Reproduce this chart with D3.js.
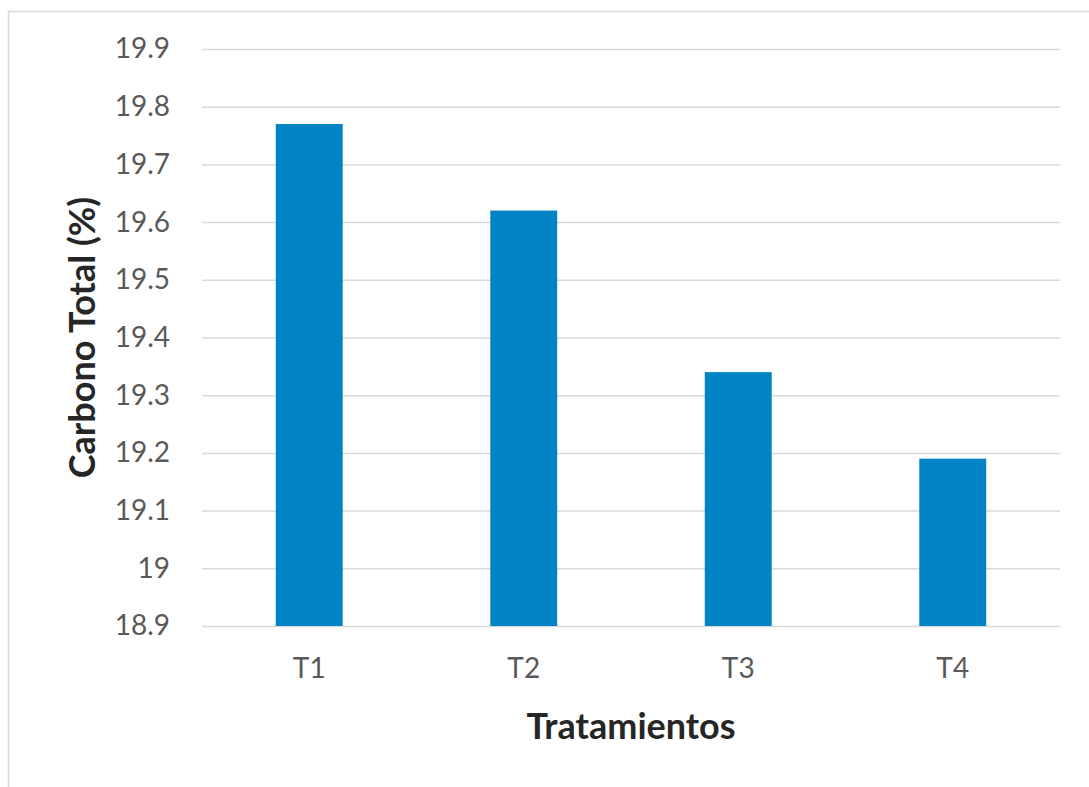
<!DOCTYPE html>
<html>
<head>
<meta charset="utf-8">
<script src="https://cdn.jsdelivr.net/npm/d3@7"></script>
<style>
  body { margin: 0; background: #fff; }
  svg { display: block; font-family: Lato, "Open Sans", sans-serif; }
</style>
</head>
<body>
<svg width="1089" height="787"></svg>
<script>
const categories = ['T1', 'T2', 'T3', 'T4'];
const values = [19.77, 19.62, 19.34, 19.19];
const yTicks = [18.9, 19, 19.1, 19.2, 19.3, 19.4, 19.5, 19.6, 19.7, 19.8, 19.9];

const svg = d3.select('svg');
const width = +svg.attr('width');
const height = +svg.attr('height');
const margin = { top: 49, right: 29, bottom: 161, left: 202 };
const chartWidth = width - margin.left - margin.right;
const chartHeight = height - margin.top - margin.bottom;
const font = 'Lato, "Open Sans", sans-serif';

// chart frame
svg.append('rect')
  .attr('x', 8.5)
  .attr('y', 11.5)
  .attr('width', 1100)
  .attr('height', 800)
  .attr('fill', 'none')
  .attr('stroke', '#d9d9d9')
  .attr('stroke-width', 1.5);

const g = svg.append('g')
  .attr('transform', `translate(${margin.left},${margin.top})`);

const x = d3.scaleBand()
  .domain(categories)
  .range([0, chartWidth])
  .paddingInner(0.688)
  .paddingOuter(0.344);

const y = d3.scaleLinear()
  .domain([18.9, 19.9])
  .range([chartHeight, 0]);

// y axis with gridlines
const yAxis = g.append('g')
  .call(d3.axisLeft(y)
    .tickValues(yTicks)
    .tickSize(-chartWidth)
    .tickPadding(32)
    .tickFormat(d => d3.format('')(+d.toFixed(1))))
  .attr('font-family', font)
  .attr('font-size', 28);
yAxis.select('.domain').remove();
yAxis.selectAll('line').attr('stroke', '#d9d9d9').attr('stroke-width', 1.5);
yAxis.selectAll('text').attr('fill', '#595959');

g.selectAll('.bar')
  .data(values)
  .enter()
  .append('rect')
  .attr('class', 'bar')
  .attr('x', (d, i) => x(categories[i]))
  .attr('y', d => y(d))
  .attr('width', x.bandwidth())
  .attr('height', d => chartHeight - y(d))
  .attr('fill', '#0084c6');

// x axis
const xAxis = g.append('g')
  .attr('transform', `translate(0,${chartHeight})`)
  .call(d3.axisBottom(x).tickSize(0).tickPadding(32))
  .attr('font-family', font)
  .attr('font-size', 28);
xAxis.select('.domain').remove();
xAxis.selectAll('text').attr('fill', '#595959');

// axis titles
svg.append('text')
  .attr('x', margin.left + chartWidth / 2)
  .attr('y', 739)
  .attr('text-anchor', 'middle')
  .attr('font-size', '36px')
  .attr('font-weight', 'bold')
  .attr('fill', '#262626')
  .text('Tratamientos');

svg.append('text')
  .attr('transform', `translate(95,${margin.top + chartHeight / 2}) rotate(-90)`)
  .attr('text-anchor', 'middle')
  .attr('font-size', '36px')
  .attr('font-weight', 'bold')
  .attr('fill', '#262626')
  .text('Carbono Total (%)');
</script>
</body>
</html>
